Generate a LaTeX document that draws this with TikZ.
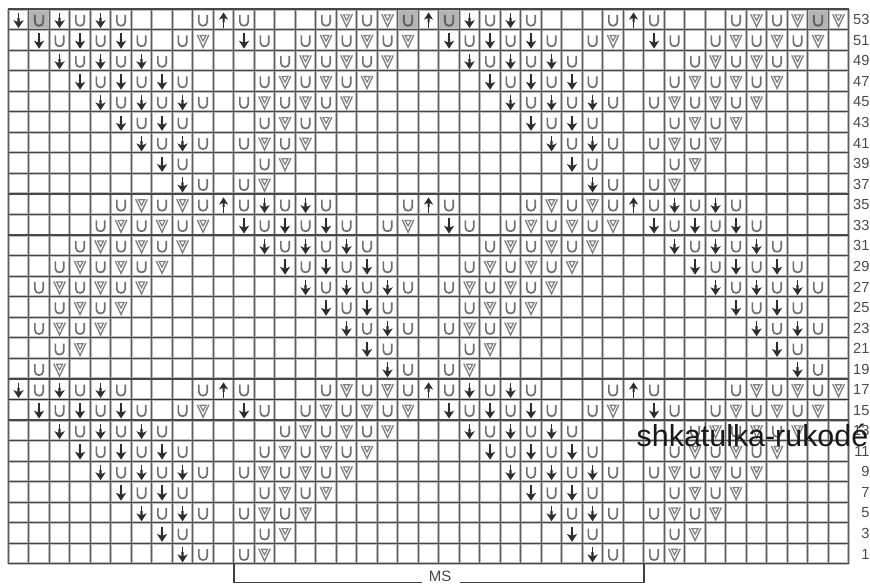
\documentclass[tikz,border=0pt]{standalone}
\usepackage{fontspec}
\setmainfont{Liberation Sans}
\definecolor{gridH}{HTML}{484848}
\definecolor{gridV}{HTML}{5E5E5E}
\definecolor{gridB}{HTML}{BCBCBC}
\definecolor{symG}{HTML}{707070}
\definecolor{symV}{HTML}{808080}
\definecolor{arrK}{HTML}{2E2E2E}
\definecolor{grayCell}{HTML}{B4B4B4}
\definecolor{lab}{HTML}{4A4A4A}
\tikzset{
  usym/.pic={\draw[symG,line width=1.7pt] (-4.2,-5.5) -- (-4.2,1.6) .. controls (-4.2,6.8) and (4.2,6.8) .. (4.2,1.6) -- (4.2,-5.5);},
  gsym/.pic={\draw[black!62,line width=1.9pt] (-4.2,-5.5) -- (-4.2,1.6) .. controls (-4.2,6.8) and (4.2,6.8) .. (4.2,1.6) -- (4.2,-5.5);},
  vsym/.pic={\draw[symV,line width=1.35pt,line join=miter] (-5.8,-6) -- (0,6.5) -- (5.8,-6);
             \draw[symV,line width=1.2pt] (-3,-5.4) -- (3,-5.4) -- (0,0.2) -- cycle;},
  dsym/.pic={\draw[arrK,line width=1.4pt] (0,-7.5) -- (0,5);
             \fill[arrK] (0,7.8) -- (-5.2,-0.2) -- (-1.1,1.6) -- (-1.1,-2.4) -- (1.1,-2.4) -- (1.1,1.6) -- (5.2,-0.2) -- cycle;},
  asym/.pic={\draw[arrK,line width=1.3pt] (0,8) -- (0,-4);
             \fill[arrK] (0,-7.8) -- (-4.6,-0.6) -- (-1,-2.2) -- (-1,2) -- (1,2) -- (1,-2.2) -- (4.6,-0.6) -- cycle;},
  rowlabel/.style={anchor=east,text=lab,inner sep=0pt,font=\fontsize{14.6}{15}\selectfont},
}
\newcount\cc
\newcount\rr
\def\placesym#1{\pic at ({8.3+20.5*(\the\cc+.5)},{10+20.55*(\the\rr+.5)}) {#1sym};}
\def\scan#1{\ifx#1.\let\nxt\relax\else\def\nxt{\placesym{#1}\advance\cc by 1\relax\scan}\fi\nxt}
\def\seg#1#2#3{\rr=#1\relax\cc=#2\relax\scan#3.}
\begin{document}
\begin{tikzpicture}[x=1pt,y=-1pt]
\useasboundingbox (0,0) rectangle (870,584);
\clip (0,0) rectangle (870,584);
\fill[white] (0,0) rectangle (870,584);
% shaded cells
\foreach \c in {1,19,21,39}
  \fill[grayCell] ({8.3+20.5*\c},9) rectangle ({8.3+20.5*(\c+1)},29.55);
% grid
\foreach \i in {0,...,41}
  \draw[gridB,line width=3pt] ({8.3+20.5*\i},9) -- ({8.3+20.5*\i},564);
\foreach \j in {0,...,27}
  \draw[gridB,line width=3pt] (8.3,{9+20.55*\j}) -- (848.8,{9+20.55*\j});
\foreach \i in {0,...,41}
  \draw[gridV,line width=1.3pt] ({8.3+20.5*\i},9) -- ({8.3+20.5*\i},564);
\foreach \j in {0,...,27}
  \draw[gridH,line width=1.2pt] (8.3,{9+20.55*\j}) -- (848.8,{9+20.55*\j});
\draw[black!80,line width=1.3pt] (8.3,399.5) -- (848.8,399.5);
% symbols
\seg{0}{0}{dgdudu}\seg{0}{9}{uau}\seg{0}{15}{uvuvgagdudu}\seg{0}{29}{uau}\seg{0}{35}{uvuvgv}
\foreach \o in {1,19}{
  \pgfmathtruncatemacro\ra{\o}\pgfmathtruncatemacro\rb{\o+1}\pgfmathtruncatemacro\rc{\o+2}\pgfmathtruncatemacro\rd{\o+3}
  \pgfmathtruncatemacro\re{\o+4}\pgfmathtruncatemacro\rf{\o+5}\pgfmathtruncatemacro\rg{\o+6}\pgfmathtruncatemacro\rh{\o+7}
  \seg{\ra}{1}{dududu}\seg{\ra}{8}{uv}\seg{\ra}{11}{du}\seg{\ra}{14}{uvuvuv}\seg{\ra}{21}{dududu}\seg{\ra}{28}{uv}\seg{\ra}{31}{du}\seg{\ra}{34}{uvuvuv}
  \seg{\rb}{2}{dududu}\seg{\rb}{13}{uvuvuv}\seg{\rb}{22}{dududu}\seg{\rb}{33}{uvuvuv}
  \seg{\rc}{3}{dududu}\seg{\rc}{12}{uvuvuv}\seg{\rc}{23}{dududu}\seg{\rc}{32}{uvuvuv}
  \seg{\rd}{4}{dududu}\seg{\rd}{11}{uvuvuv}\seg{\rd}{24}{dududu}\seg{\rd}{31}{uvuvuv}
  \seg{\re}{5}{dudu}\seg{\re}{12}{uvuv}\seg{\re}{25}{dudu}\seg{\re}{32}{uvuv}
  \seg{\rf}{6}{dudu}\seg{\rf}{11}{uvuv}\seg{\rf}{26}{dudu}\seg{\rf}{31}{uvuv}
  \seg{\rg}{7}{du}\seg{\rg}{12}{uv}\seg{\rg}{27}{du}\seg{\rg}{32}{uv}
  \seg{\rh}{8}{du}\seg{\rh}{11}{uv}\seg{\rh}{28}{du}\seg{\rh}{31}{uv}
}
\seg{9}{5}{uvuvuaududu}\seg{9}{19}{uau}\seg{9}{25}{uvuvuaududu}
\seg{10}{4}{uvuvuv}\seg{10}{11}{dududu}\seg{10}{18}{uv}\seg{10}{21}{du}\seg{10}{24}{uvuvuv}\seg{10}{31}{dududu}
\seg{11}{3}{uvuvuv}\seg{11}{12}{dududu}\seg{11}{23}{uvuvuv}\seg{11}{32}{dududu}
\seg{12}{2}{uvuvuv}\seg{12}{13}{dududu}\seg{12}{22}{uvuvuv}\seg{12}{33}{dududu}
\seg{13}{1}{uvuvuv}\seg{13}{14}{dududu}\seg{13}{21}{uvuvuv}\seg{13}{34}{dududu}
\seg{14}{2}{uvuv}\seg{14}{15}{dudu}\seg{14}{22}{uvuv}\seg{14}{35}{dudu}
\seg{15}{1}{uvuv}\seg{15}{16}{dudu}\seg{15}{21}{uvuv}\seg{15}{36}{dudu}
\seg{16}{2}{uv}\seg{16}{17}{du}\seg{16}{22}{uv}\seg{16}{37}{du}
\seg{17}{1}{uv}\seg{17}{18}{du}\seg{17}{21}{uv}\seg{17}{38}{du}
\seg{18}{0}{dududu}\seg{18}{9}{uau}\seg{18}{15}{uvuvuaududu}\seg{18}{29}{uau}\seg{18}{35}{uvuvuv}
% row numbers
\foreach \n [count=\k from 0] in {53,51,...,1}
  \node[rowlabel] (r\n) at (869.6,{9.5+20.55*(\k+.5)}) {\n};
% repeat bracket
\coordinate (ba) at (234,564);
\coordinate (bb) at (234,582.6);
\coordinate (bc) at (422,582.6);
\coordinate (bd) at (460,582.6);
\coordinate (be) at (644,582.6);
\coordinate (bf) at (644,564);
\draw[black!75,line width=1.1pt] (ba) -- (bb) -- (bc);
\draw[black!75,line width=1.1pt] (bd) -- (be) -- (bf);
\node[text=black!72,inner sep=0pt,font=\fontsize{15}{15}\selectfont] (ms) at (440,576) {MS};
% watermark
\node[anchor=base west,text=black!90,inner sep=0pt,font=\fontsize{30.4}{31}\selectfont] (wm) at (636.5,446) {shkatulka-rukodé};
\end{tikzpicture}
\end{document}
